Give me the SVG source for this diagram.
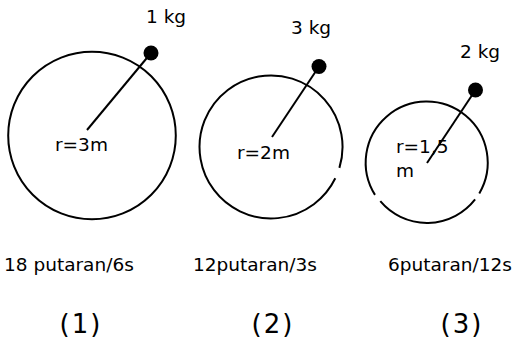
<svg xmlns="http://www.w3.org/2000/svg" width="514" height="341" viewBox="0 0 514 341">
<style>
.c{fill:none;stroke:#000;stroke-width:2}
.r{stroke:#000;stroke-width:2}
.b{fill:#000}
text{font-family:"DejaVu Sans","Verdana",sans-serif;font-size:18.5px;fill:#000}
.lbl{font-size:26px;letter-spacing:2px}
</style>
<rect width="514" height="341" fill="#fff"/>
<g id="node1">
<circle class="c" cx="92" cy="135.5" r="83.8"/>
<line class="r" x1="87" y1="130" x2="151" y2="53"/>
<circle class="b" cx="151" cy="53" r="7.5"/>
<text x="146" y="23">1 kg</text>
<text x="55" y="151">r=3m</text>
<text x="4" y="271">18 putaran/6s</text>
<text class="lbl" x="81" y="333" text-anchor="middle">(1)</text>
</g>
<g id="node2">
<path class="c" d="M335.3,178.3 A71.5,71.5 0 1 1 339.4,167.9"/>
<line class="r" x1="272" y1="137" x2="319" y2="66.5"/>
<circle class="b" cx="319" cy="66.5" r="7.5"/>
<text x="291" y="34">3 kg</text>
<text x="237" y="159">r=2m</text>
<text x="193" y="271">12putaran/3s</text>
<text class="lbl" x="273" y="333" text-anchor="middle">(2)</text>
</g>
<g id="node3">
<path class="c" d="M475.1,199.4 A61,61 0 0 1 380.3,201.2 M375.0,194.9 A61,61 0 1 1 479.3,193.4"/>
<line class="r" x1="427" y1="163" x2="475.5" y2="90"/>
<circle class="b" cx="475.5" cy="90" r="7.5"/>
<text x="460" y="58">2 kg</text>
<text x="396" y="153">r=1,5</text>
<text x="396" y="177">m</text>
<text x="388" y="271">6putaran/12s</text>
<text class="lbl" x="462" y="333" text-anchor="middle">(3)</text>
</g>
<g id="connectors"></g>
</svg>
